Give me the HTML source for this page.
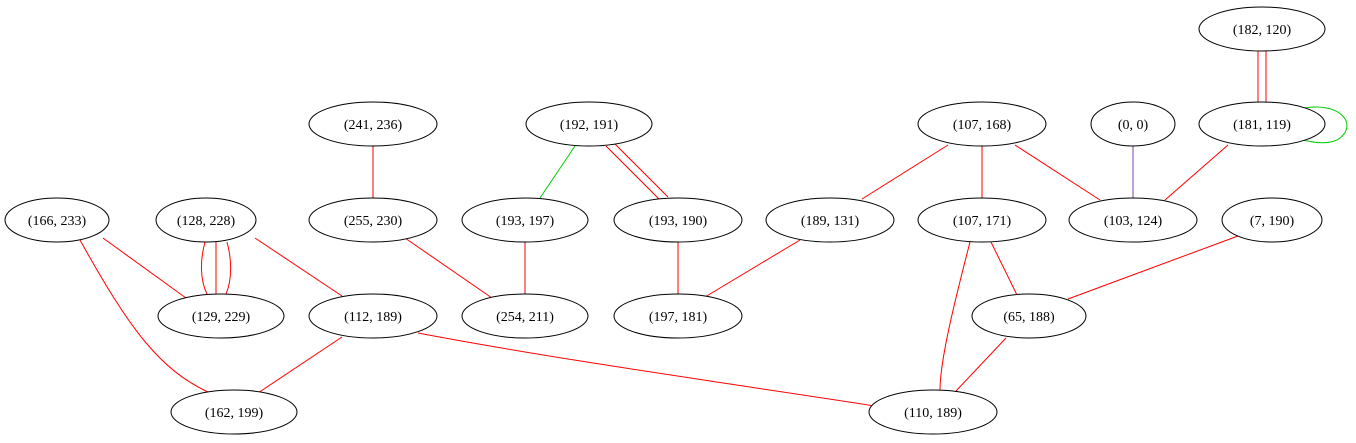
<!DOCTYPE html>
<html><head><meta charset="utf-8"><style>html,body{margin:0;padding:0;background:#fff}svg{display:block}</style></head>
<body>
<svg width="1356" height="443" viewBox="0 0 1356 443" xmlns="http://www.w3.org/2000/svg" font-family="Liberation Serif, serif" font-size="14">
<g stroke="red" fill="none" stroke-width="1">
<path d="M1258,51 L1258,102 M1266,51 L1266,102"/>
<path d="M1299,109 C1340,100 1358,124 1340,138 C1330,146 1310,142 1299,139" stroke="#00cc00"/>
<path d="M373,146 L373,198"/>
<path d="M575,146 L540,198" stroke="#00cc00"/>
<path d="M606,146 L660,200 M615,144 L668,197"/>
<path d="M948,145 L862,199"/>
<path d="M982,146 L982,198"/>
<path d="M1015,145 L1100,200"/>
<path d="M1133,146 L1133,198" stroke="#8040b0"/>
<path d="M1228,145 L1165,200"/>
<path d="M103,238 L186,298"/>
<path d="M80,240 C130,330 160,370 210,393"/>
<path d="M205,242 C200,260 200,280 207,294 M216,242 L216,294 M227,242 C232,260 232,280 226,294"/>
<path d="M255,238 L342,296"/>
<path d="M405,238 L492,298"/>
<path d="M525,242 L525,294"/>
<path d="M678,242 L678,294"/>
<path d="M800,240 L705,297"/>
<path d="M990,240 L1017,295"/>
<path d="M970,242 C955,300 940,360 940,390"/>
<path d="M1238,236 L1068,299"/>
<path d="M342,337 L258,393"/>
<path d="M418,333 C560,360 740,385 875,406"/>
<path d="M1006,338 L956,391"/>
</g>
<g fill="#fff" stroke="#000" stroke-width="1">
<ellipse cx="1262" cy="29" rx="63" ry="22"/>
<ellipse cx="1262" cy="124" rx="63" ry="22"/>
<ellipse cx="373" cy="124" rx="64" ry="22"/>
<ellipse cx="589" cy="124" rx="63" ry="22"/>
<ellipse cx="982" cy="124" rx="64" ry="22"/>
<ellipse cx="1133" cy="124" rx="42" ry="22"/>
<ellipse cx="57" cy="220" rx="52" ry="22"/>
<ellipse cx="206" cy="220" rx="50" ry="22"/>
<ellipse cx="373" cy="220" rx="64" ry="22"/>
<ellipse cx="525" cy="220" rx="63" ry="22"/>
<ellipse cx="678" cy="220" rx="64" ry="22"/>
<ellipse cx="830" cy="220" rx="64" ry="22"/>
<ellipse cx="982" cy="220" rx="64" ry="22"/>
<ellipse cx="1133" cy="220" rx="64" ry="22"/>
<ellipse cx="1272" cy="220" rx="50" ry="22"/>
<ellipse cx="221" cy="316" rx="63" ry="22"/>
<ellipse cx="373" cy="316" rx="64" ry="22"/>
<ellipse cx="525" cy="316" rx="63" ry="22"/>
<ellipse cx="678" cy="316" rx="64" ry="22"/>
<ellipse cx="1029" cy="316" rx="57" ry="22"/>
<ellipse cx="234" cy="412" rx="63" ry="22"/>
<ellipse cx="933" cy="412" rx="64" ry="22"/>
</g>
<g text-anchor="middle" fill="#000">
<text x="1262" y="34">(182, 120)</text>
<text x="1262" y="129">(181, 119)</text>
<text x="373" y="129">(241, 236)</text>
<text x="589" y="129">(192, 191)</text>
<text x="982" y="129">(107, 168)</text>
<text x="1133" y="129">(0, 0)</text>
<text x="57" y="225">(166, 233)</text>
<text x="206" y="225">(128, 228)</text>
<text x="373" y="225">(255, 230)</text>
<text x="525" y="225">(193, 197)</text>
<text x="678" y="225">(193, 190)</text>
<text x="830" y="225">(189, 131)</text>
<text x="982" y="225">(107, 171)</text>
<text x="1133" y="225">(103, 124)</text>
<text x="1272" y="225">(7, 190)</text>
<text x="221" y="321">(129, 229)</text>
<text x="373" y="321">(112, 189)</text>
<text x="525" y="321">(254, 211)</text>
<text x="678" y="321">(197, 181)</text>
<text x="1029" y="321">(65, 188)</text>
<text x="234" y="417">(162, 199)</text>
<text x="933" y="417">(110, 189)</text>
</g>
</svg>
</body></html>
